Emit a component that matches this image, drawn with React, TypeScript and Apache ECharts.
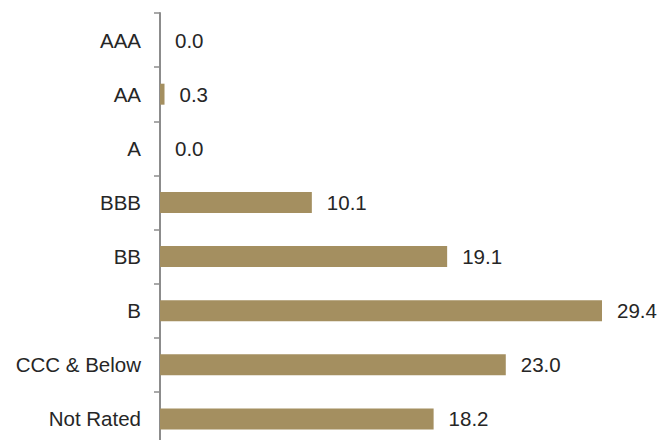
import React, { useEffect, useRef } from "react";
import * as echarts from "echarts";

const categories = ["AAA", "AA", "A", "BBB", "BB", "B", "CCC & Below", "Not Rated"];
const values = [0.0, 0.3, 0.0, 10.1, 19.1, 29.4, 23.0, 18.2];

export default function App() {
  const ref = useRef<HTMLDivElement>(null);
  useEffect(() => {
    if (!ref.current) return;
    const chart = echarts.init(ref.current, null, { renderer: "svg" });
    chart.setOption({
      animation: false,
      grid: { left: 160, right: 58, top: 13, height: 433, containLabel: false },
      xAxis: {
        type: "value",
        min: 0,
        max: 29.4,
        show: false,
      },
      yAxis: {
        type: "category",
        data: categories,
        inverse: true,
        axisLine: { show: true, lineStyle: { color: "#8c8c8c", width: 2 } },
        axisTick: { show: true, length: 6, lineStyle: { color: "#8c8c8c", width: 1.5 } },
        axisLabel: {
          margin: 19,
          color: "#262626",
          fontSize: 20.5,
          fontFamily: "Liberation Sans, Arial, sans-serif",
        },
        splitLine: { show: false },
      },
      series: [
        {
          type: "bar",
          data: values,
          barWidth: 21,
          itemStyle: { color: "#a48f60" },
          label: {
            show: true,
            position: "right",
            distance: 15,
            formatter: (p: any) => Number(p.value).toFixed(1),
            color: "#262626",
            fontSize: 20.5,
            fontFamily: "Liberation Sans, Arial, sans-serif",
          },
        },
      ],
    });
    return () => chart.dispose();
  }, []);
  return (
    <div style={{ position: "fixed", left: 0, top: 0, width: 660, height: 440, overflow: "hidden", background: "#ffffff" }}>
      <div ref={ref} style={{ width: 660, height: 460 }} />
    </div>
  );
}
